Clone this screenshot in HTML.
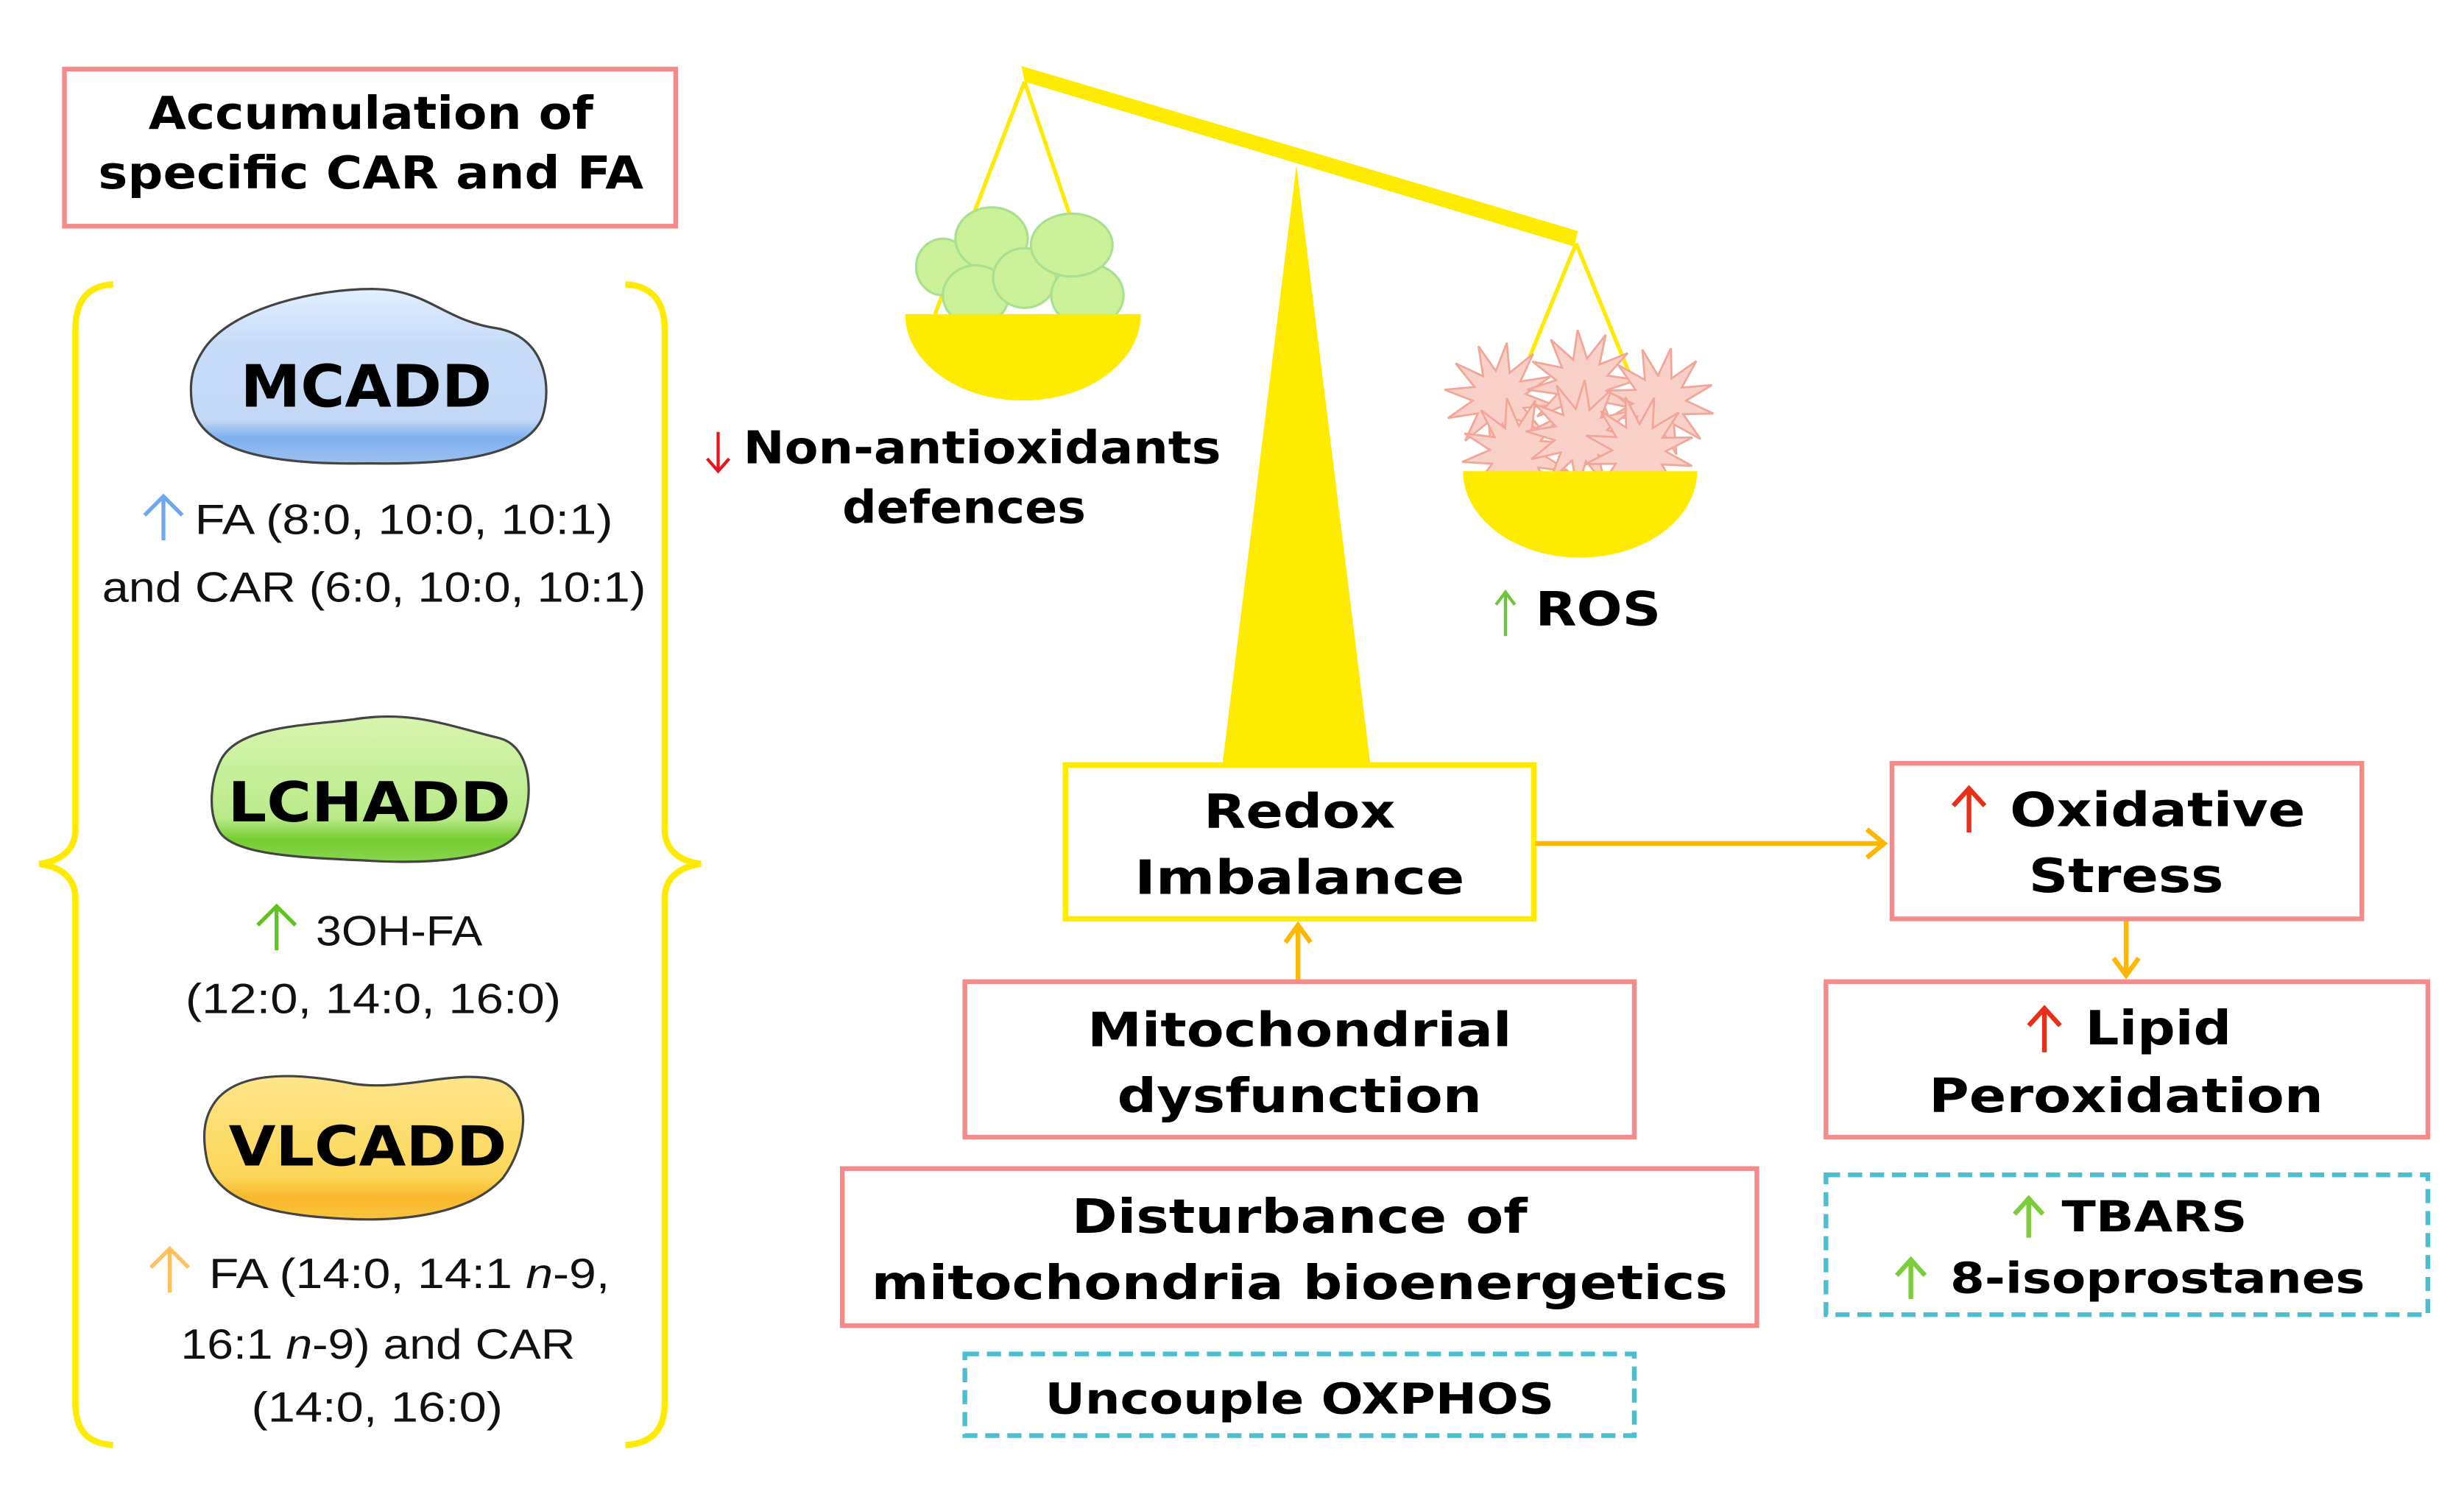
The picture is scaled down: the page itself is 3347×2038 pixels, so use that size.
<!DOCTYPE html>
<html><head><meta charset="utf-8"><style>
html,body{margin:0;padding:0;background:#fff;}
svg{display:block;}
.b{font-family:"DejaVu Sans","Liberation Sans",sans-serif;font-weight:bold;fill:#000;}
.r{font-family:"Liberation Sans",sans-serif;fill:#111;}
</style></head><body>
<svg width="3347" height="2038" viewBox="0 0 1568 955" preserveAspectRatio="none" xmlns="http://www.w3.org/2000/svg">
<defs>
<linearGradient id="gb" x1="0" y1="0" x2="0" y2="1"><stop offset="0" stop-color="#e2f0ff"/><stop offset="0.3" stop-color="#c8dcf8"/><stop offset="0.75" stop-color="#c2d8f6"/><stop offset="0.85" stop-color="#7fb0f0"/><stop offset="1" stop-color="#9cc0f0"/></linearGradient>
<linearGradient id="gg" x1="0" y1="0" x2="0" y2="1"><stop offset="0" stop-color="#d8f5b0"/><stop offset="0.7" stop-color="#b8ea88"/><stop offset="0.85" stop-color="#74cc30"/><stop offset="1" stop-color="#8ad650"/></linearGradient>
<linearGradient id="gy" x1="0" y1="0" x2="0" y2="1"><stop offset="0" stop-color="#fde58a"/><stop offset="0.7" stop-color="#fcd658"/><stop offset="0.85" stop-color="#f7b72a"/><stop offset="1" stop-color="#f9c440"/></linearGradient>
<polygon id="st" points="27,0 12.6,3.4 23.4,13.5 9.2,9.2 13.5,23.4 3.4,12.6 0,27 -3.4,12.6 -13.5,23.4 -9.2,9.2 -23.4,13.5 -12.6,3.4 -27,0 -12.6,-3.4 -23.4,-13.5 -9.2,-9.2 -13.5,-23.4 -3.4,-12.6 0,-27 3.4,-12.6 13.5,-23.4 9.2,-9.2 23.4,-13.5 12.6,-3.4" fill="#f9d0c8" stroke="#f2a698" stroke-width="1"/>
</defs>

<rect x="41" y="44" width="389" height="100" fill="#fff" stroke="#f48a8a" stroke-width="3"/>
<text class="b" x="236" y="82" font-size="29" text-anchor="middle" textLength="283" lengthAdjust="spacingAndGlyphs">Accumulation of</text>
<text class="b" x="236" y="120" font-size="29" text-anchor="middle" textLength="347" lengthAdjust="spacingAndGlyphs">specific CAR and FA</text>

<path d="M72,181 C55,182 48,192 48,210 L48,528 C48,540 40,548 25,550 C40,552 48,560 48,572 L48,893 C48,910 55,919 72,920" fill="none" stroke="#ffeb00" stroke-width="4"/>
<path d="M398,181 C415,182 423,192 423,210 L423,528 C423,540 431,548 446,550 C431,552 423,560 423,572 L423,893 C423,910 415,919 398,920" fill="none" stroke="#ffeb00" stroke-width="4"/>

<path d="M130,222 C148,196 200,184 237,184 C272,184 282,204 316,209 C346,214 352,245 345,266 C335,290 290,296 235,295 C180,296 126,290 122,256 C120,240 124,231 130,222 Z" fill="url(#gb)" stroke="#444" stroke-width="1.5"/>
<text class="b" x="233" y="259" font-size="37" text-anchor="middle" textLength="160" lengthAdjust="spacingAndGlyphs">MCADD</text>
<path d="M104,344 L104,316 M92,328 L104,316 L116,328" fill="none" stroke="#6fa8f0" stroke-width="2.5"/>
<text class="r" x="124" y="340" font-size="27" textLength="266" lengthAdjust="spacingAndGlyphs">FA (8:0, 10:0, 10:1)</text>
<text class="r" x="65" y="383" font-size="27" textLength="346" lengthAdjust="spacingAndGlyphs">and CAR (6:0, 10:0, 10:1)</text>

<path d="M140,485 C150,462 195,462 225,458 C262,452 285,462 318,470 C340,476 340,512 330,530 C318,548 270,550 235,548 C195,546 150,545 140,530 C132,518 134,498 140,485 Z" fill="url(#gg)" stroke="#444" stroke-width="1.5"/>
<text class="b" x="235" y="523" font-size="35" text-anchor="middle" textLength="180" lengthAdjust="spacingAndGlyphs">LCHADD</text>
<path d="M176,605 L176,577 M164,589 L176,577 L188,589" fill="none" stroke="#5fc41f" stroke-width="2.5"/>
<text class="r" x="201" y="602" font-size="27" textLength="106" lengthAdjust="spacingAndGlyphs">3OH-FA</text>
<text class="r" x="118" y="645" font-size="27" textLength="239" lengthAdjust="spacingAndGlyphs">(12:0, 14:0, 16:0)</text>

<path d="M138,700 C155,680 195,684 225,690 C258,695 290,680 318,688 C340,696 335,730 320,750 C300,772 260,778 220,776 C180,774 140,768 132,740 C128,722 130,710 138,700 Z" fill="url(#gy)" stroke="#444" stroke-width="1.5"/>
<text class="b" x="234" y="742" font-size="35" text-anchor="middle" textLength="177" lengthAdjust="spacingAndGlyphs">VLCADD</text>
<path d="M108,823 L108,795 M96,807 L108,795 L120,807" fill="none" stroke="#ffc060" stroke-width="2.5"/>
<text class="r" x="133" y="820" font-size="27" textLength="255" lengthAdjust="spacingAndGlyphs">FA (14:0, 14:1 <tspan font-style="italic">n</tspan>-9,</text>
<text class="r" x="115" y="865" font-size="27" textLength="251" lengthAdjust="spacingAndGlyphs">16:1 <tspan font-style="italic">n</tspan>-9) and CAR</text>
<text class="r" x="160" y="905" font-size="27" textLength="160" lengthAdjust="spacingAndGlyphs">(14:0, 16:0)</text>

<polygon points="825,105 778,486 872,486" fill="#ffeb00"/>
<polygon points="650,42 1004,147 1002,157 652,52" fill="#ffeb00"/>
<path d="M652,52 L595,200 M652,52 L692,170" stroke="#ffeb00" stroke-width="2.5" fill="none"/>
<path d="M1003,155 L960,260 M1003,155 L1046,260" stroke="#ffeb00" stroke-width="2.5" fill="none"/>
<g fill="#caf098" stroke="#a8e090" stroke-width="1.5">
<ellipse cx="600" cy="170" rx="17" ry="18"/>
<ellipse cx="631" cy="152" rx="23" ry="20"/>
<ellipse cx="621" cy="188" rx="21" ry="19"/>
<ellipse cx="652" cy="177" rx="20" ry="19"/>
<ellipse cx="692" cy="188" rx="23" ry="20"/>
<ellipse cx="682" cy="156" rx="26" ry="20"/>
</g>
<path d="M576,200 L726,200 A75,55 0 0 1 576,200 Z" fill="#ffeb00"/>
<use href="#st" transform="translate(954,253) rotate(8) scale(1.3)"/>
<use href="#st" transform="translate(1007,245) rotate(-5) scale(1.3)"/>
<use href="#st" transform="translate(1056,256) rotate(12) scale(1.3)"/>
<use href="#st" transform="translate(965,288) rotate(-10) scale(1.3)"/>
<use href="#st" transform="translate(1006,277) rotate(4) scale(1.3)"/>
<use href="#st" transform="translate(1043,287) rotate(-14) scale(1.3)"/>
<path d="M931,300 L1080,300 A74.5,55 0 0 1 931,300 Z" fill="#ffeb00"/>

<path d="M457,275 L457,300 M450,292 L457,300 L464,292" fill="none" stroke="#e8141e" stroke-width="2"/>
<text class="b" x="473" y="295" font-size="29" textLength="304" lengthAdjust="spacingAndGlyphs">Non-antioxidants</text>
<text class="b" x="536" y="333" font-size="29" textLength="155" lengthAdjust="spacingAndGlyphs">defences</text>
<path d="M958,405 L958,377 M952,385 L958,377 L964,385" fill="none" stroke="#6cc63c" stroke-width="2"/>
<text class="b" x="977" y="398" font-size="30" textLength="80" lengthAdjust="spacingAndGlyphs">ROS</text>

<rect x="678" y="487" width="298" height="98" fill="#fff" stroke="#ffeb00" stroke-width="3.5"/>
<text class="b" x="827" y="527" font-size="30" text-anchor="middle" textLength="122" lengthAdjust="spacingAndGlyphs">Redox</text>
<text class="b" x="827" y="569" font-size="30" text-anchor="middle" textLength="210" lengthAdjust="spacingAndGlyphs">Imbalance</text>

<path d="M977,537 L1198,537 M1188,528 L1199,537 L1188,546" fill="none" stroke="#ffb600" stroke-width="3"/>
<path d="M1353,586 L1353,620 M1345,610 L1353,621 L1361,610" fill="none" stroke="#ffb600" stroke-width="3"/>
<path d="M826,624 L826,590 M818,600 L826,589 L834,600" fill="none" stroke="#ffb600" stroke-width="3"/>

<rect x="1204" y="486" width="299" height="99" fill="#fff" stroke="#f48a8a" stroke-width="3"/>
<path d="M1253,530 L1253,502 M1243,513 L1253,502 L1263,513" fill="none" stroke="#e83018" stroke-width="3"/>
<text class="b" x="1279" y="526" font-size="30" textLength="188" lengthAdjust="spacingAndGlyphs">Oxidative</text>
<text class="b" x="1353" y="568" font-size="30" text-anchor="middle" textLength="124" lengthAdjust="spacingAndGlyphs">Stress</text>

<rect x="1162" y="625" width="383" height="99" fill="#fff" stroke="#f48a8a" stroke-width="3"/>
<path d="M1301,670 L1301,642 M1291,653 L1301,642 L1311,653" fill="none" stroke="#e83018" stroke-width="3"/>
<text class="b" x="1327" y="665" font-size="30" textLength="93" lengthAdjust="spacingAndGlyphs">Lipid</text>
<text class="b" x="1353" y="708" font-size="30" text-anchor="middle" textLength="251" lengthAdjust="spacingAndGlyphs">Peroxidation</text>

<rect x="614" y="625" width="426" height="99" fill="#fff" stroke="#f48a8a" stroke-width="3"/>
<text class="b" x="827" y="666" font-size="30" text-anchor="middle" textLength="270" lengthAdjust="spacingAndGlyphs">Mitochondrial</text>
<text class="b" x="827" y="708" font-size="30" text-anchor="middle" textLength="232" lengthAdjust="spacingAndGlyphs">dysfunction</text>

<rect x="536" y="744" width="582" height="100" fill="#fff" stroke="#f48a8a" stroke-width="3"/>
<text class="b" x="827" y="785" font-size="30" text-anchor="middle" textLength="290" lengthAdjust="spacingAndGlyphs">Disturbance of</text>
<text class="b" x="827" y="827" font-size="30" text-anchor="middle" textLength="545" lengthAdjust="spacingAndGlyphs">mitochondria bioenergetics</text>

<rect x="614" y="862" width="426" height="52" fill="#fff" stroke="#4bbfcf" stroke-width="3" stroke-dasharray="9,5"/>
<text class="b" x="827" y="900" font-size="27" text-anchor="middle" textLength="324" lengthAdjust="spacingAndGlyphs">Uncouple OXPHOS</text>

<rect x="1162" y="748" width="383" height="89" fill="#fff" stroke="#4bbfcf" stroke-width="3" stroke-dasharray="9,5"/>
<path d="M1291,788 L1291,763 M1282,773 L1291,763 L1300,773" fill="none" stroke="#7ccd3c" stroke-width="3"/>
<text class="b" x="1312" y="784" font-size="27" textLength="118" lengthAdjust="spacingAndGlyphs">TBARS</text>
<path d="M1216,827 L1216,802 M1207,812 L1216,802 L1225,812" fill="none" stroke="#7ccd3c" stroke-width="3"/>
<text class="b" x="1241" y="823" font-size="27" textLength="264" lengthAdjust="spacingAndGlyphs">8-isoprostanes</text>
</svg>
</body></html>
